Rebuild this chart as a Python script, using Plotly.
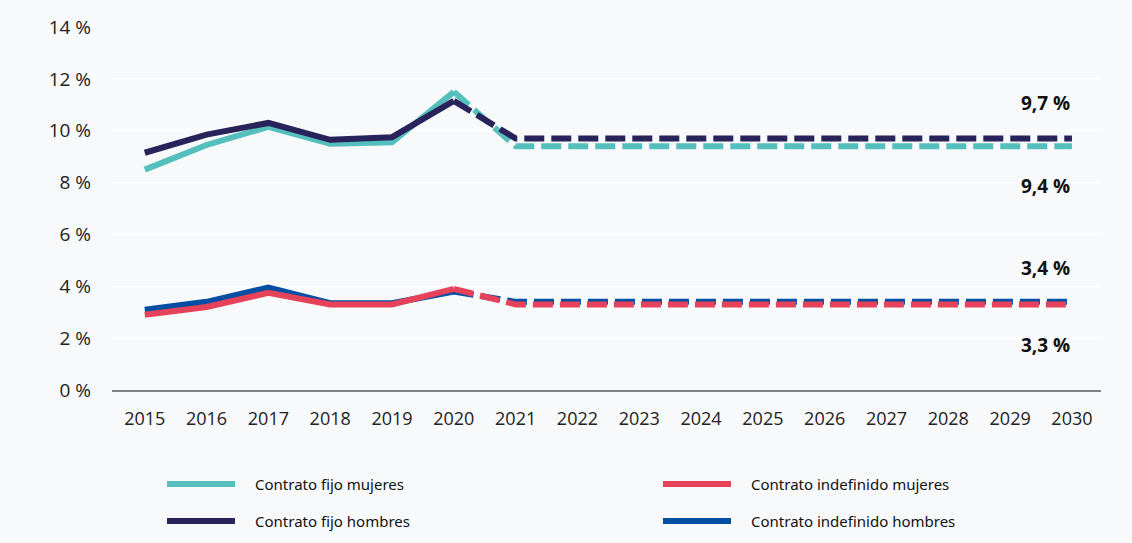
import plotly.graph_objects as go

# ---------------------------------------------------------------- data
years = [2015, 2016, 2017, 2018, 2019, 2020, 2021, 2022,
         2023, 2024, 2025, 2026, 2027, 2028, 2029, 2030]

fijo_mujeres = [8.5, 9.45, 10.15, 9.5, 9.55, 11.5, 9.4, 9.4,
                9.4, 9.4, 9.4, 9.4, 9.4, 9.4, 9.4, 9.4]
fijo_hombres = [9.15, 9.85, 10.3, 9.65, 9.75, 11.15, 9.7, 9.7,
                9.7, 9.7, 9.7, 9.7, 9.7, 9.7, 9.7, 9.7]
indef_mujeres = [2.9, 3.2, 3.75, 3.3, 3.3, 3.9, 3.3, 3.3,
                 3.3, 3.3, 3.3, 3.3, 3.3, 3.3, 3.3, 3.3]
indef_hombres = [3.1, 3.4, 3.95, 3.35, 3.35, 3.8, 3.4, 3.4,
                 3.4, 3.4, 3.4, 3.4, 3.4, 3.4, 3.4, 3.4]

last_observed = 2020

names = ["Contrato fijo mujeres", "Contrato indefinido mujeres",
         "Contrato fijo hombres", "Contrato indefinido hombres"]

# ---------------------------------------------------------------- style
bg = "#f8f9fb"
colors = {
    "Contrato fijo mujeres": "#55bfbd",
    "Contrato fijo hombres": "#29235c",
    "Contrato indefinido hombres": "#024ea2",
    "Contrato indefinido mujeres": "#e6435a",
}
series = {
    "Contrato fijo mujeres": fijo_mujeres,
    "Contrato fijo hombres": fijo_hombres,
    "Contrato indefinido hombres": indef_hombres,
    "Contrato indefinido mujeres": indef_mujeres,
}
# label offsets (px) for the end-of-line value labels
label_shift = {
    "Contrato fijo hombres": 35,
    "Contrato fijo mujeres": -40,
    "Contrato indefinido hombres": 34,
    "Contrato indefinido mujeres": -41,
}

W, H = 1132, 543
margin = dict(l=112, r=31, t=27, b=153)
plot_w = W - margin["l"] - margin["r"]
plot_h = H - margin["t"] - margin["b"]

fig = go.Figure()

cut = years.index(last_observed)
draw_order = ["Contrato fijo mujeres", "Contrato fijo hombres",
              "Contrato indefinido hombres", "Contrato indefinido mujeres"]
for name in draw_order:
    vals = series[name]
    fig.add_trace(go.Scatter(
        x=years[:cut + 1], y=vals[:cut + 1], mode="lines", name=name,
        line=dict(color=colors[name], width=6), showlegend=False,
        hoverinfo="skip",
    ))
    fig.add_trace(go.Scatter(
        x=years[cut:], y=vals[cut:], mode="lines", name=name,
        line=dict(color=colors[name], width=6, dash="20px,7px"),
        showlegend=False, hoverinfo="skip",
    ))
    fig.add_annotation(
        x=years[-1], y=vals[-1], xref="x", yref="y",
        text=("%.1f %%" % vals[-1]).replace(".", ","),
        showarrow=False, xanchor="right", yanchor="middle",
        yshift=label_shift[name],
        font=dict(family="Open Sans", size=19, color="#111111", weight="bold"),
    )

# ---------------------------------------------------------------- legend (drawn by hand: long line samples)
def px_x(p):
    return (p - margin["l"]) / plot_w

def px_y(p):
    return (H - margin["b"] - p) / plot_h

legend_pos = [(167, 484), (663, 484), (167, 521), (663, 521)]
for name, (lx, ly) in zip(names, legend_pos):
    fig.add_shape(type="line", xref="paper", yref="paper",
                  x0=px_x(lx), x1=px_x(lx + 68), y0=px_y(ly), y1=px_y(ly),
                  line=dict(color=colors[name], width=6))
    fig.add_annotation(x=px_x(lx + 86), y=px_y(ly), xref="paper", yref="paper",
                       text=name, showarrow=False, xanchor="left", yanchor="middle",
                       font=dict(family="Noto Sans", size=15, color="#111111"))

fig.update_layout(
    width=W, height=H,
    margin=margin,
    paper_bgcolor=bg, plot_bgcolor=bg,
    font=dict(family="Open Sans", color="#222222"),
    showlegend=False,
    xaxis=dict(
        range=[2014.47, 2030.47], tickmode="array", tickvals=years,
        showgrid=False, zeroline=False,
        showline=True, linecolor="#808080", linewidth=2,
        tickfont=dict(size=18, color="#222222"),
        ticklabelstandoff=11, fixedrange=True,
    ),
    yaxis=dict(
        range=[0, 14], dtick=2, ticksuffix=" %",
        showgrid=True, gridcolor="#ffffff", gridwidth=1,
        zeroline=False, showline=False,
        tickfont=dict(size=19, color="#222222"),
        ticklabelstandoff=20, fixedrange=True,
    ),
)

fig.write_html(
    "out.html",
    config={"displayModeBar": False},
    post_script="document.body.style.margin='0';document.body.style.background='%s';" % bg,
)
